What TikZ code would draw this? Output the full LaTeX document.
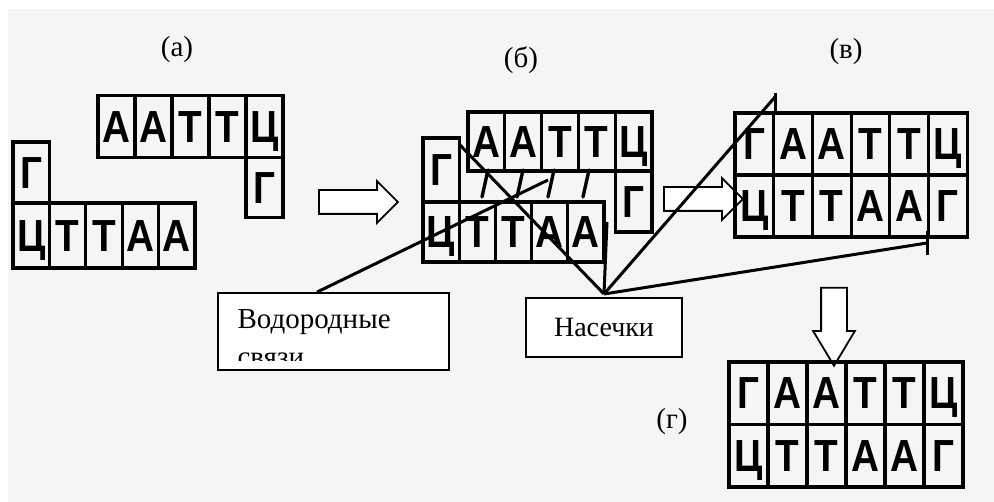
\documentclass[tikz,border=0pt]{standalone}
\usepackage{fontspec}
\setmainfont{Liberation Serif}
\newfontfamily\basefont{Liberation Sans}[FakeStretch=0.86]
\usetikzlibrary{shapes,arrows,positioning}

\tikzset{
    base/.style={draw, line width=3.2pt, minimum width=37pt, minimum height=62pt,
        inner sep=0pt, outer sep=0pt, text height=31.5pt, text depth=0pt,
        font=\basefont\bfseries\fontsize{45}{45}\selectfont},
    notebox/.style={draw, line width=1.8pt, fill=white, inner sep=0pt,
        font=\fontsize{28}{28}\selectfont},
    tag/.style={font=\fontsize{29}{29}\selectfont},
    hollow/.style={single arrow, draw, line width=1.8pt, fill=white, inner sep=0pt,
        text height=11pt, text depth=11pt, minimum width=40pt,
        single arrow head extend=9pt, single arrow tip angle=90},
    conn/.style={line width=3pt},
    bond/.style={line width=3.4pt, line cap=round}
}

\begin{document}
\begin{tikzpicture}[x=1pt, y=-1pt]
    \useasboundingbox (0,0) rectangle (994,502);
    \fill[black!4] (8,9) rectangle (994,502);

    % (a) two sticky-ended strands
    \node[tag] (tag-a) at (177,50) {(а)};
    \foreach \l [count=\i] in {А,А,Т,Т,Ц}
        \node[base] (a-t\i) at ({98+37*\i-18.5},126.5) {\l};
    \node[base, minimum height=60pt, below=0pt of a-t5] (a-tg) {Г};
    \foreach \l [count=\i] in {Ц,Т,Т,А,А}
        \node[base, minimum width=36.4pt, minimum height=65pt] (a-b\i) at ({13+36.4*\i-18.2},235.5) {\l};
    \node[base, minimum width=36.4pt, minimum height=61pt, above=0pt of a-b1] (a-bg) {Г};

    \node[hollow, minimum height=79pt] (arr-1) at (352.5,202) {};

    % (b) strands paired by hydrogen bonds
    \node[tag] (tag-b) at (521,60) {(б)};
    \foreach \l [count=\i] in {А,А,Т,Т,Ц}
        \node[base, minimum width=36.8pt, minimum height=59pt] (b-t\i) at ({468+36.8*\i-18.4},141.5) {\l};
    \node[base, minimum width=36.8pt, minimum height=61pt, below=0pt of b-t5] (b-tg) {Г};
    \foreach \l [count=\i] in {Ц,Т,Т,А,А}
        \node[base, minimum width=36.2pt, minimum height=60pt] (b-b\i) at ({423+36.2*\i-18.1},232) {\l};
    \node[base, minimum width=36.2pt, minimum height=64pt, above=0pt of b-b1] (b-bg) {Г};
    \foreach \x in {488,523,554,589}
        \draw[bond] (\x,170) -- ++(-6,27);

    \node[hollow, minimum height=79pt] (arr-2) at (697.5,199) {};

    % (c) paired duplex with the nicks
    \node[tag] (tag-c) at (846,52) {(в)};
    \foreach \l [count=\i] in {Г,А,А,Т,Т,Ц}
        \node[base, minimum width=38.7pt] (c-t\i) at ({735+38.7*\i-19.35},144) {\l};
    \foreach \l [count=\i] in {Ц,Т,Т,А,А,Г}
        \node[base, minimum width=38.7pt] (c-b\i) at ({735+38.7*\i-19.35},206) {\l};

    \node[hollow, minimum height=78pt, rotate=-90, single arrow head extend=8pt,
        text height=12pt, text depth=12pt, single arrow tip angle=62] (arr-3) at (834,316) {};

    % (d) sealed duplex
    \node[tag] (tag-d) at (672,422) {(г)};
    \foreach \l [count=\i] in {Г,А,А,Т,Т,Ц}
        \node[base, minimum width=39pt, minimum height=62.5pt] (d-t\i) at ({729+39*\i-19.5},393.25) {\l};
    \foreach \l [count=\i] in {Ц,Т,Т,А,А,Г}
        \node[base, minimum width=39pt, minimum height=62.5pt] (d-b\i) at ({729+39*\i-19.5},455.75) {\l};

    % Callout boxes
    \node[notebox, minimum width=231pt, minimum height=77pt] (vod) at (333.5,331.5) {};
    \node[anchor=base west, font=\fontsize{29}{29}\selectfont] (vod-1) at (234,329) {Водородные};
    \begin{scope}
        \clip (219,294) rectangle (448,361);
        \node[anchor=base west, font=\fontsize{29}{29}\selectfont] (vod-2) at (234,367) {связи};
    \end{scope}
    \node[notebox, minimum width=156pt, minimum height=59pt] (nas) at (604,327.5) {Насечки};

    % Pointer lines
    \coordinate (hb) at (548,180);
    \coordinate (nick) at (604,294);
    \coordinate (cut-a) at (459,144);
    \coordinate (cut-b) at (607,222);
    \coordinate (cut-c) at (775,97);
    \coordinate (cut-d) at (927,243);
    \draw[conn] ([xshift=-16.5pt]vod.north) -- (hb);
    \draw[conn] (nick) -- (cut-a);
    \draw[conn] (nick) -- (cut-b);
    \draw[conn] (nick) -- (cut-c);
    \draw[conn] (nick) -- (cut-d);
    \draw[conn] ([yshift=4pt]cut-c) -- ++(0,22);
    \draw[conn] ([yshift=12pt]cut-d) -- ++(0,24);
\end{tikzpicture}
\end{document}
